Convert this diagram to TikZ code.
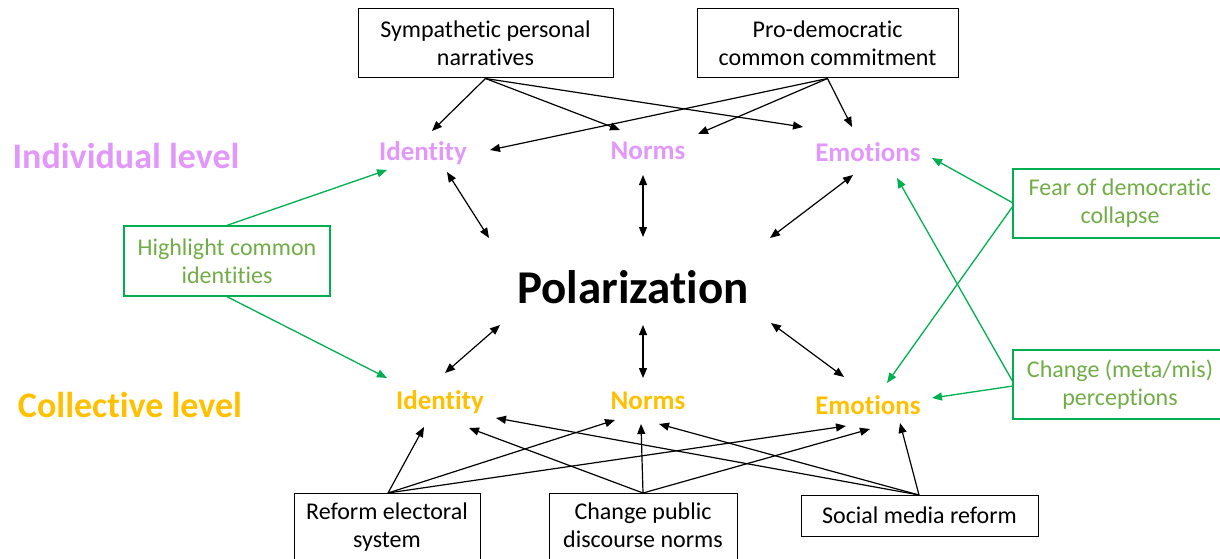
\documentclass[tikz,border=0pt]{standalone}
\usepackage{fontspec}
\setmainfont{Carlito}[Ligatures={NoCommon}]
\usetikzlibrary{arrows.meta}
\definecolor{pinkc}{RGB}{226,152,250}
\definecolor{goldc}{RGB}{255,192,0}
\definecolor{gtext}{RGB}{112,173,71}
\definecolor{gline}{RGB}{0,176,80}
\begin{document}
\begin{tikzpicture}[x=1pt,y=-1pt,
 box/.style={draw=black, line width=1pt, align=center, inner sep=0pt, font=\fontsize{24}{28}\selectfont},
 gbox/.style={draw=gline, line width=1.3pt, text=gtext, align=center, inner sep=0pt, font=\fontsize{24}{28}\selectfont},
 lvl/.style={inner sep=0pt, font=\fontsize{36}{40}\selectfont\bfseries},
 ind/.style={inner sep=0pt, text=pinkc, font=\fontsize{27}{30}\selectfont\bfseries},
 col/.style={inner sep=0pt, text=goldc, font=\fontsize{27}{30}\selectfont\bfseries},
 arr/.style={-{Triangle[length=10pt,width=8pt]}, line width=1.2pt},
 darr/.style={{Triangle[length=10pt,width=8pt]}-{Triangle[length=10pt,width=8pt]}, line width=1.2pt},
 garr/.style={-{Triangle[length=10pt,width=8pt]}, draw=gline, line width=1.3pt}]
\useasboundingbox (0,0) rectangle (1220,559);
% boxes
\node[box, minimum width=255pt, minimum height=69pt] (symp) at (485.5,43.5) {Sympathetic personal\\narratives};
\node[box, minimum width=261pt, minimum height=69pt] (pro) at (827.5,43.5) {Pro-democratic\\common commitment};
\node[box, minimum width=186pt, minimum height=70pt] (ref) at (387,528) {Reform electoral\strut\\system\strut};
\node[box, minimum width=188pt, minimum height=70pt] (cpd) at (643,528) {Change public\strut\\discourse norms\strut};
\node[box, minimum width=237pt, minimum height=41pt] (smr) at (919.5,515.5) {Social media reform};
\node[gbox, minimum width=206pt, minimum height=70pt] (high) at (227,261) {Highlight common\\identities};
\node[gbox, minimum width=214pt, minimum height=69pt] (fear) at (1120,203.5) {Fear of democratic\\collapse};
\node[gbox, minimum width=214pt, minimum height=69pt] (chg) at (1120,384.5) {Change (meta/mis)\\perceptions};
% labels
\node[lvl, text=pinkc] (indl) at (126,156) {Individual level};
\node[lvl, text=goldc] (coll) at (130,405) {Collective level};
\node[ind] (iid) at (423,153) {Identity};
\node[ind] (inorm) at (648,151) {Norms};
\node[ind] (iemo) at (868,152) {Emotions};
\node[col] (cid) at (440,402) {Identity};
\node[col] (cnorm) at (648,401) {Norms};
\node[col] (cemo) at (868,405) {Emotions};
\node[inner sep=0pt, font=\fontsize{47}{50}\selectfont\bfseries] (pol) at (633,287) {Polarization};
% arrow end points
\coordinate (a1) at (432,131);
\coordinate (a2) at (620,130);
\coordinate (a3) at (803,127);
\coordinate (a4) at (490,150);
\coordinate (a5) at (698,134);
\coordinate (a6) at (852,127);
% top arrows
\draw[arr] (symp.south) -- (a1);
\draw[arr] (symp.south) -- (a2);
\draw[arr] (symp.south) -- (a3);
\draw[arr] (pro.south) -- (a4);
\draw[arr] (pro.south) -- (a5);
\draw[arr] (pro.south) -- (a6);
% double arrows
\coordinate (d1a) at (447,172); \coordinate (d1b) at (489,238);
\coordinate (d2a) at (643,175); \coordinate (d2b) at (643,237);
\coordinate (d3a) at (853,175); \coordinate (d3b) at (770,238);
\coordinate (d4a) at (445,373); \coordinate (d4b) at (500,325);
\coordinate (d5a) at (643,378); \coordinate (d5b) at (643,325);
\coordinate (d6a) at (844,377); \coordinate (d6b) at (771,323);
\draw[darr] (d1a) -- (d1b);
\draw[darr] (d2a) -- (d2b);
\draw[darr] (d3a) -- (d3b);
\draw[darr] (d4a) -- (d4b);
\draw[darr] (d5a) -- (d5b);
\draw[darr] (d6a) -- (d6b);
% green arrows
\coordinate (g1) at (387,170);
\coordinate (g2) at (387,378);
\coordinate (g3) at (932,158);
\coordinate (g4) at (887,383);
\coordinate (g5) at (897,178);
\coordinate (g6) at (932,398);
\coordinate (fs1) at (1013,203);
\coordinate (fs2) at (1013,206);
\coordinate (cs1) at (1013,382);
\coordinate (cs2) at (1013,386);
\draw[garr] (high.north) -- (g1);
\draw[garr] (high.south) -- (g2);
\draw[garr] (fs1) -- (g3);
\draw[garr] (fs2) -- (g4);
\draw[garr] (cs1) -- (g5);
\draw[garr] (cs2) -- (g6);
% bottom arrows
\coordinate (rs) at (388,493);
\coordinate (cs) at (643,493);
\coordinate (ss) at (919,495);
\coordinate (b1) at (424,427);
\coordinate (b2) at (615,420);
\coordinate (b3) at (846,426);
\coordinate (b4) at (469,428);
\coordinate (b5) at (641,424);
\coordinate (b6) at (870,429);
\coordinate (b7) at (496,418);
\coordinate (b8) at (659,424);
\coordinate (b9) at (900,423);
\draw[arr] (rs) -- (b1);
\draw[arr] (rs) -- (b2);
\draw[arr] (rs) -- (b3);
\draw[arr] (cs) -- (b4);
\draw[arr] (cs) -- (b5);
\draw[arr] (cs) -- (b6);
\draw[arr] (ss) -- (b7);
\draw[arr] (ss) -- (b8);
\draw[arr] (ss) -- (b9);
\end{tikzpicture}
\end{document}
